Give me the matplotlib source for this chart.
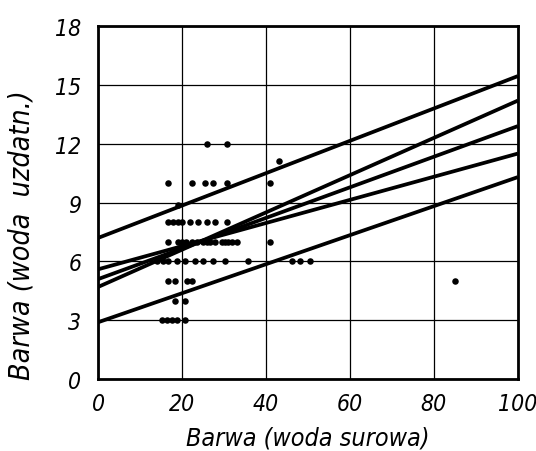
import matplotlib
matplotlib.use("Agg")
import matplotlib.pyplot as plt
import numpy as np

# Scatter data (raw water colour vs treated water colour)
pts_x = [26, 30.7,
         16.7, 22.4, 25.5, 27.4, 30.7, 41, 43,
         19,
         16.7, 17.9, 19, 20, 21.9, 23.8, 26, 27.9, 30.7,
         16.7, 19, 20, 21, 22.4, 23.6, 25, 26, 26.7, 27.9, 29.5, 30.2, 31, 32, 33, 41,
         14, 15.5, 16.7, 18.8, 20.7, 23.1, 25, 27.4, 30.2, 35.7, 46.2, 48, 50.5,
         16.7, 18.3, 21.2, 22.4,
         18.3, 20.7,
         15.2, 16.4, 17.6, 18.8, 20.7,
         85]
pts_y = [12, 12,
         10, 10, 10, 10, 10, 10, 11.1,
         8.9,
         8, 8, 8, 8, 8, 8, 8, 8, 8,
         7, 7, 7, 7, 7, 7, 7, 7, 7, 7, 7, 7, 7, 7, 7, 7,
         6, 6, 6, 6, 6, 6, 6, 6, 6, 6, 6, 6, 6,
         5, 5, 5, 5,
         4, 4,
         3, 3, 3, 3, 3,
         5]

# Regression lines: value at x=0 and x=100
line_x = [0, 100]
line_start = [7.2, 4.7, 5.1, 5.6, 2.9]
line_end = [15.45, 14.2, 12.9, 11.5, 10.3]

x_ticks = [0, 20, 40, 60, 80, 100]
y_ticks = [0, 3, 6, 9, 12, 15, 18]

plt.rcParams['font.family'] = ['DejaVu Sans']
plt.rcParams['font.stretch'] = 'condensed'

fig = plt.figure(figsize=(5.36, 4.52), dpi=100)
ax = fig.add_axes([0.183, 0.159, 0.783, 0.781])

ax.set_xlim(0, 100)
ax.set_ylim(0, 18)
ax.set_xticks(x_ticks)
ax.set_yticks(y_ticks)
ax.grid(True, color='black', linewidth=0.9)
ax.set_axisbelow(True)

for s, e in zip(line_start, line_end):
    ax.plot(line_x, [s, e], color='black', linewidth=2.7, solid_capstyle='butt', zorder=3)

ax.scatter(pts_x, pts_y, s=22, color='black', zorder=4, linewidths=0)

for sp in ax.spines.values():
    sp.set_linewidth(2)
    sp.set_color('black')

ax.tick_params(length=0, labelsize=16.5)
ax.tick_params(axis='x', pad=9)
ax.tick_params(axis='y', pad=12)
for lbl in ax.get_xticklabels() + ax.get_yticklabels():
    lbl.set_fontstyle('italic')
    lbl.set_fontstretch('condensed')

ax.set_xlabel('Barwa (woda surowa)', fontsize=18, style='italic', labelpad=8)
ax.set_ylabel('Barwa (woda  uzdatn.)', fontsize=20.5, style='italic')
ax.yaxis.set_label_coords(-0.15, 0.41)

fig.savefig('out.png', dpi=100)
